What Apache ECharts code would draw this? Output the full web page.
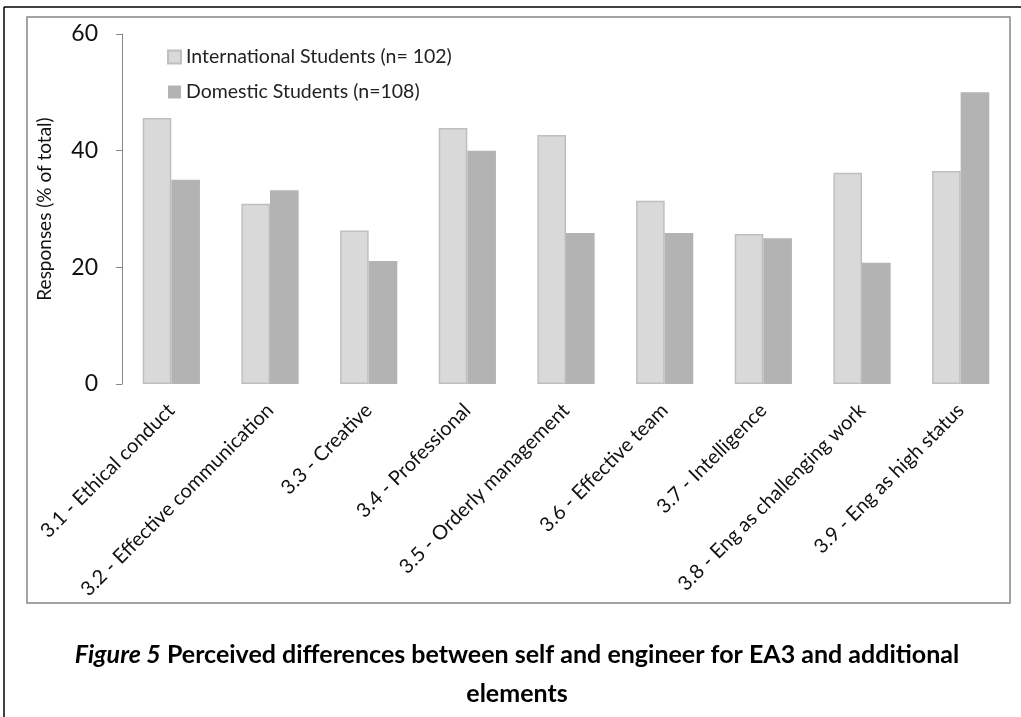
<!DOCTYPE html>
<html>
<head>
<meta charset="utf-8">
<script src="https://cdn.jsdelivr.net/npm/echarts@6/dist/echarts.min.js"></script>
<style>
html,body{margin:0;padding:0;background:#fff;}
#chart{width:1021px;height:717px;}
</style>
</head>
<body>
<div id="chart"></div>
<script>
const categories = [
  '3.1 - Ethical conduct',
  '3.2 - Effective communication',
  '3.3 - Creative',
  '3.4 - Professional',
  '3.5 - Orderly management',
  '3.6 - Effective team',
  '3.7 - Intelligence',
  '3.8 - Eng as challenging work',
  '3.9 - Eng as high status'
];
const internationalValues = [45.6, 30.9, 26.3, 43.9, 42.7, 31.4, 25.7, 36.2, 36.5];
const domesticValues = [35.0, 33.2, 21.1, 40.0, 25.9, 25.9, 25.0, 20.8, 50.0];
const yTicks = [0, 20, 40, 60];
const seriesNames = ['International Students (n= 102)', 'Domestic Students (n=108)'];
const captionItalic = 'Figure 5';
const captionRest = ' Perceived differences between self and engineer for EA3 and additional';
const captionLine2 = 'elements';

const FONT = 'Lato, "Open Sans", sans-serif';
const chart = echarts.init(document.getElementById('chart'), null, {renderer: 'canvas'});
chart.setOption({
  backgroundColor: '#fff',
  animation: false,
  textStyle: {fontFamily: FONT},
  grid: {left: 122, right: 11, top: 34, bottom: 333, containLabel: false},
  legend: {
    orient: 'vertical', left: 162, top: 42, itemWidth: 13, itemHeight: 13, itemGap: 15,
    icon: 'rect',
    textStyle: {fontSize: 19.5, color: '#222', fontFamily: FONT},
    data: seriesNames
  },
  xAxis: {
    type: 'category', data: categories,
    axisLine: {show: false}, axisTick: {show: false},
    axisLabel: {rotate: 45, fontSize: 20, color: '#111', margin: 23, interval: 0, fontFamily: FONT}
  },
  yAxis: {
    type: 'value', min: 0, max: 60, interval: 20,
    name: 'Responses (% of total)', nameLocation: 'middle', nameGap: 68, nameRotate: 90,
    nameTextStyle: {fontSize: 19, color: '#111', fontFamily: FONT},
    axisLine: {show: true, lineStyle: {color: '#868686', width: 1}},
    axisTick: {show: true, length: 6, lineStyle: {color: '#868686'}},
    splitLine: {show: false},
    axisLabel: {fontSize: 23, color: '#111', margin: 24, fontFamily: FONT,
      formatter: v => yTicks.includes(v) ? String(v) : ''}
  },
  series: [
    {name: seriesNames[0], type: 'bar', data: internationalValues, barGap: '0%', barCategoryGap: '42%',
      itemStyle: {color: '#d9d9d9', borderColor: '#bfbfbf', borderWidth: 1.5}},
    {name: seriesNames[1], type: 'bar', data: domesticValues,
      itemStyle: {color: '#b3b3b3'}}
  ],
  graphic: [
    {type: 'line', shape: {x1: 4, y1: 7, x2: 1021, y2: 7}, style: {stroke: '#000', lineWidth: 1.5}, silent: true},
    {type: 'line', shape: {x1: 4, y1: 7, x2: 4, y2: 717}, style: {stroke: '#000', lineWidth: 1.5}, silent: true},
    {type: 'rect', shape: {x: 27, y: 17, width: 983, height: 586}, style: {fill: 'none', stroke: '#868686', lineWidth: 1.5}, silent: true, z: -1},
    {type: 'text', x: 517, y: 642,
      style: {text: '{i|' + captionItalic + '}{b|' + captionRest + '}', align: 'center', verticalAlign: 'top', rich: {
        i: {fontStyle: 'italic', fontWeight: 'bold', fontSize: 25, fill: '#000', fontFamily: FONT},
        b: {fontWeight: 'bold', fontSize: 25, fill: '#000', fontFamily: FONT}
      }}},
    {type: 'text', x: 517, y: 681,
      style: {text: captionLine2, align: 'center', verticalAlign: 'top', fontWeight: 'bold', fontSize: 25, fill: '#000', fontFamily: FONT}}
  ]
});
</script>
</body>
</html>
